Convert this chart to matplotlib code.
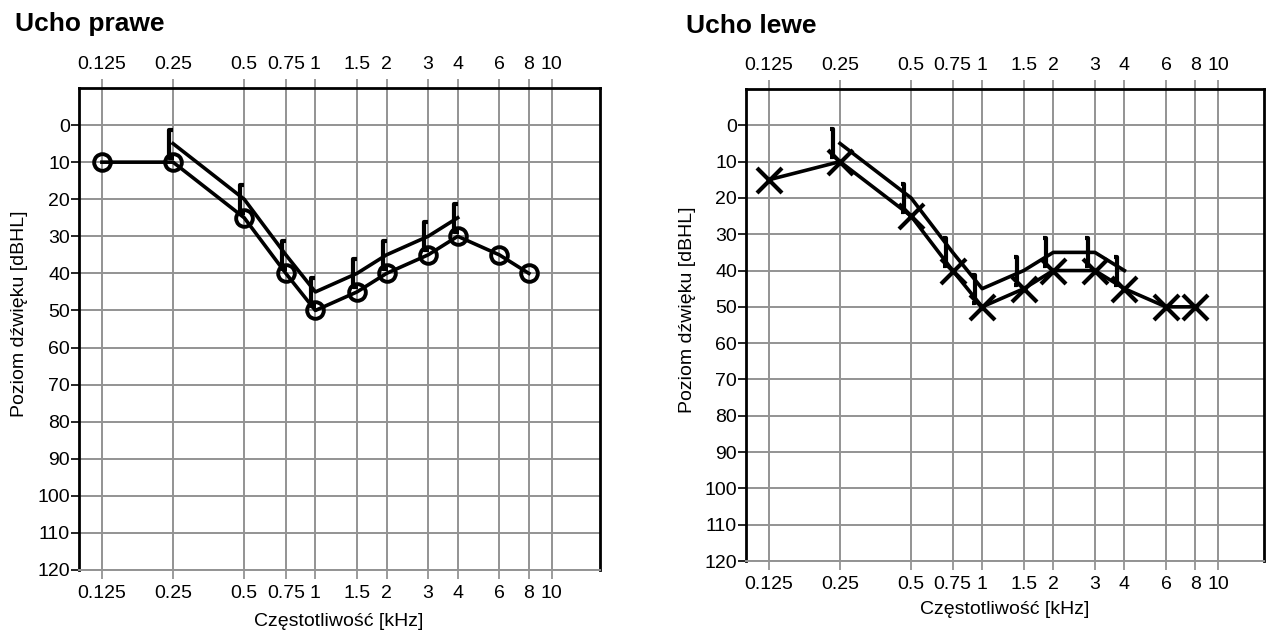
import numpy as np
import matplotlib
matplotlib.use('Agg')
import matplotlib.pyplot as plt
from matplotlib.path import Path as MPath
from matplotlib.ticker import FixedLocator, NullLocator


plt.rcParams.update({'font.family': ['Liberation Sans', 'DejaVu Sans'], 'font.size': 14})

W, H = 1266, 635

freqs = [0.125, 0.25, 0.5, 0.75, 1, 1.5, 2, 3, 4, 6, 8]
bone_freqs = [0.25, 0.5, 0.75, 1, 1.5, 2, 3, 4]

right_air = [10, 10, 25, 40, 50, 45, 40, 35, 30, 35, 40]
right_bone = [5, 20, 35, 45, 40, 35, 30, 25]
left_air = [15, 10, 25, 40, 50, 45, 40, 40, 45, 50, 50]
left_bone = [5, 20, 35, 45, 40, 35, 35, 40]

tick_freqs = [0.125, 0.25, 0.5, 0.75, 1, 1.5, 2, 3, 4, 6, 8, 10]
tick_labels = ['0.125', '0.25', '0.5', '0.75', '1', '1.5', '2', '3', '4', '6', '8', '10']
db_ticks = list(range(0, 130, 10))

GRID = '#939393'

# bone conduction brackets, drawn just left of the frequency
open_bracket = MPath([(0.0, 1), (-0.3, 1), (-0.3, -1), (0.05, -1)],
	[MPath.MOVETO, MPath.LINETO, MPath.LINETO, MPath.LINETO])
close_bracket = MPath([(-0.75, 1), (-0.5, 1), (-0.5, -1), (-0.75, -1)],
	[MPath.MOVETO, MPath.LINETO, MPath.LINETO, MPath.LINETO])


def px_axes(fig, left, right, top, bottom):
	return fig.add_axes([left / W, 1 - bottom / H, (right - left) / W, (bottom - top) / H])


def style_audiogram(ax, xmax):
	ax.set_xscale('log', base=2)
	ax.set_xlim(0.1, xmax)
	ax.set_ylim(120, -10)
	ax.xaxis.set_major_locator(FixedLocator(tick_freqs))
	ax.xaxis.set_minor_locator(NullLocator())
	ax.set_xticklabels(tick_labels)
	ax.set_yticks(db_ticks)
	ax.tick_params(axis='x', which='major', top=True, labeltop=True, bottom=True,
		length=6.5, width=1.3, color=GRID, pad=4, labelsize=14)
	ax.tick_params(axis='y', length=6, width=1.2, color='black', pad=0.5, labelsize=14)
	ax.grid(True, color=GRID, linewidth=1.4)
	ax.set_axisbelow(True)
	for side in ['left', 'top', 'right']:
		ax.spines[side].set_linewidth(2)
		ax.spines[side].set_color('black')
	ax.spines['bottom'].set_color(GRID)
	ax.spines['bottom'].set_linewidth(1.4)


def plot_ear(ax, air, bone, air_marker, air_ms, air_mew, bracket):
	ax.plot(freqs, air, color='black', lw=2.6, marker=air_marker, ms=air_ms,
		mfc='none', mec='black', mew=air_mew, zorder=4)
	ax.plot(bone_freqs, bone, color='black', lw=2.6, zorder=3)
	ax.plot(bone_freqs, bone, ls='none', marker=bracket, ms=20,
		mfc='none', mec='black', mew=3, zorder=5)


if __name__ == '__main__':

	fig = plt.figure(figsize=(W / 100, H / 100), dpi=100)

	ax_r = px_axes(fig, 79, 600, 88, 570)
	style_audiogram(ax_r, 16)
	plot_ear(ax_r, right_air, right_bone, 'o', 12, 2.8, open_bracket)

	ax_l = px_axes(fig, 746, 1264, 89, 561)
	style_audiogram(ax_l, 15.6)
	plot_ear(ax_l, left_air, left_bone, 'x', 18, 3, close_bracket)

	fig.text(15 / W, 1 - 24 / H, 'Ucho prawe', fontsize=19, fontweight='bold', va='center', ha='left')
	fig.text(686 / W, 1 - 26 / H, 'Ucho lewe', fontsize=19, fontweight='bold', va='center', ha='left')

	fig.text(20 / W, 1 - 314 / H, 'Poziom dźwięku [dBHL]', rotation=90, va='center', ha='center', fontsize=14)
	fig.text(688 / W, 1 - 310 / H, 'Poziom dźwięku [dBHL]', rotation=90, va='center', ha='center', fontsize=14)

	fig.text(339 / W, 1 - 622 / H, 'Częstotliwość [kHz]', va='center', ha='center', fontsize=14)
	fig.text(1005 / W, 1 - 610 / H, 'Częstotliwość [kHz]', va='center', ha='center', fontsize=14)

	fig.savefig('out.png', dpi=100, facecolor='white')
